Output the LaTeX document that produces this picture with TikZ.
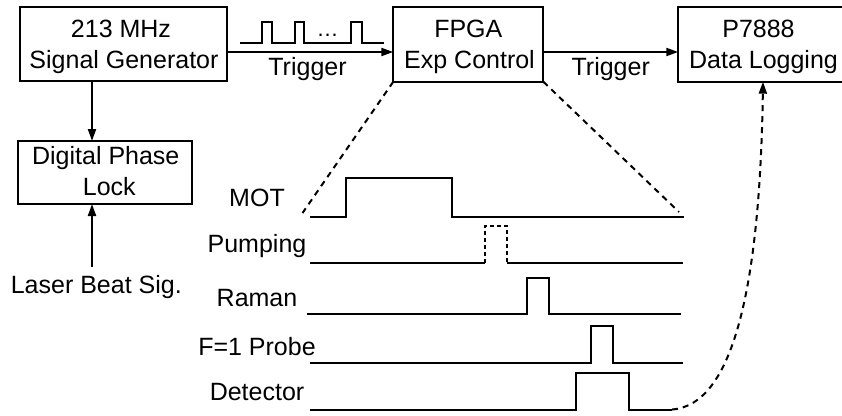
\documentclass[tikz,border=0pt]{standalone}
\usepackage{fontspec}
\setmainfont{Liberation Sans}
\usetikzlibrary{arrows.meta}
\begin{document}
\begin{tikzpicture}[x=1pt,y=-1pt,
  box/.style={draw, line width=2pt, outer sep=0pt, inner sep=0pt},
  txt/.style={inner sep=0pt, anchor=base, font=\fontsize{25}{30}\selectfont},
  arr/.style={line width=2pt, -{Triangle[length=12pt,width=8pt]}},
  wave/.style={line width=2pt},
  zoomline/.style={line width=2pt, dash pattern=on 6pt off 5pt},
  dasharr/.style={line width=2pt, dash pattern=on 6pt off 5pt, -{Triangle[length=12pt,width=8pt]}},
  pdash/.style={line width=2pt, dash pattern=on 4pt off 3pt}]
\useasboundingbox (0,0) rectangle (842,415);

% boxes
\node[box, minimum width=207pt, minimum height=74pt] (gen) at (123.5,44) {};
\node[txt] (gen1) at (121,37.5) {213 MHz};
\node[txt] (gen2) at (124,68.5) {Signal Generator};

\node[box, minimum width=150pt, minimum height=74.4pt] (fpga) at (468.3,44.5) {};
\node[txt] (fpga1) at (468.3,37.7) {FPGA};
\node[txt] (fpga2) at (469.5,68.3) {Exp Control};

\node[box, minimum width=164.7pt, minimum height=74.4pt] (log) at (760.6,44.5) {};
\node[txt] (log1) at (758.5,37.7) {P7888};
\node[txt] (log2) at (763.5,68.3) {Data Logging};

\node[box, minimum width=174pt, minimum height=63pt] (dpl) at (105,172.5) {};
\node[txt] (dpl1) at (105.8,164.3) {Digital Phase};
\node[txt] (dpl2) at (109.3,195) {Lock};

\node[txt] (laser) at (96.3,293.3) {Laser Beat Sig.};

% connectors
\coordinate (lx) at (92,0);
\draw[arr] (gen.south -| lx) -- (dpl.north -| lx);
\coordinate (lstart) at (92,267);
\draw[arr] (lstart) -- (dpl.south -| lx);

\draw[arr] ([yshift=-8pt]gen.east) -- ([yshift=-8pt]gen.east -| fpga.west);
\draw[arr] ([yshift=-7.5pt]fpga.east) -- ([yshift=-7.5pt]fpga.east -| log.west);

\node[txt] (trig1) at (307.5,75.5) {Trigger};
\node[txt] (trig2) at (610.7,75.5) {Trigger};

% pulse train
\draw[wave] (240,43.3) -- (262.3,43.3) -- (262.3,22.3) -- (271.7,22.3) -- (271.7,43.3)
  -- (295,43.3) -- (295,22.3) -- (304,22.3) -- (304,43.3)
  -- (350.7,43.3) -- (350.7,22.3) -- (361.7,22.3) -- (361.7,43.3) -- (384,43.3);
\node[inner sep=0pt, anchor=base, font=\fontsize{22}{26}\selectfont] (dots) at (327.5,36) {\ldots};

% zoom lines
\coordinate (motL) at (302.5,213);
\coordinate (motR) at (679,212);
\draw[zoomline] (fpga.south west) -- (motL);
\draw[zoomline] (fpga.south east) -- (motR);

% timing labels
\node[txt] (mot) at (257,206) {MOT};
\node[txt] (pump) at (257,252.7) {Pumping};
\node[txt] (raman) at (257,306.7) {Raman};
\node[txt] (probe) at (257,355) {F=1 Probe};
\node[txt] (det) at (257,400.7) {Detector};

% waveforms
\draw[wave] (309.5,216.7) -- (346,216.7) -- (346,177.7) -- (452.3,177.7) -- (452.3,216.7) -- (684,216.7);
\draw[wave] (310,262.7) -- (485,262.7);
\draw[pdash] (485,262.7) -- (485,226) -- (507.3,226) -- (507.3,262.7);
\draw[wave] (507.3,262.7) -- (683.3,262.7);
\draw[wave] (307.3,314) -- (526.7,314) -- (526.7,278.3) -- (549.3,278.3) -- (549.3,314) -- (681,314);
\draw[wave] (310,362.7) -- (590.7,362.7) -- (590.7,326) -- (613.3,326) -- (613.3,362.7) -- (683.3,362.7);
\draw[wave] (310,409.5) -- (576,409.5) -- (576,373.3) -- (629.3,373.3) -- (629.3,409.5) -- (672,409.5);

% detector to data logging
\coordinate (detend) at (672,409.5);
\coordinate (logx) at (763,0);
\draw[dasharr] (detend) .. controls (735,405) and (760,280) .. (log.south -| logx);
\end{tikzpicture}
\end{document}
